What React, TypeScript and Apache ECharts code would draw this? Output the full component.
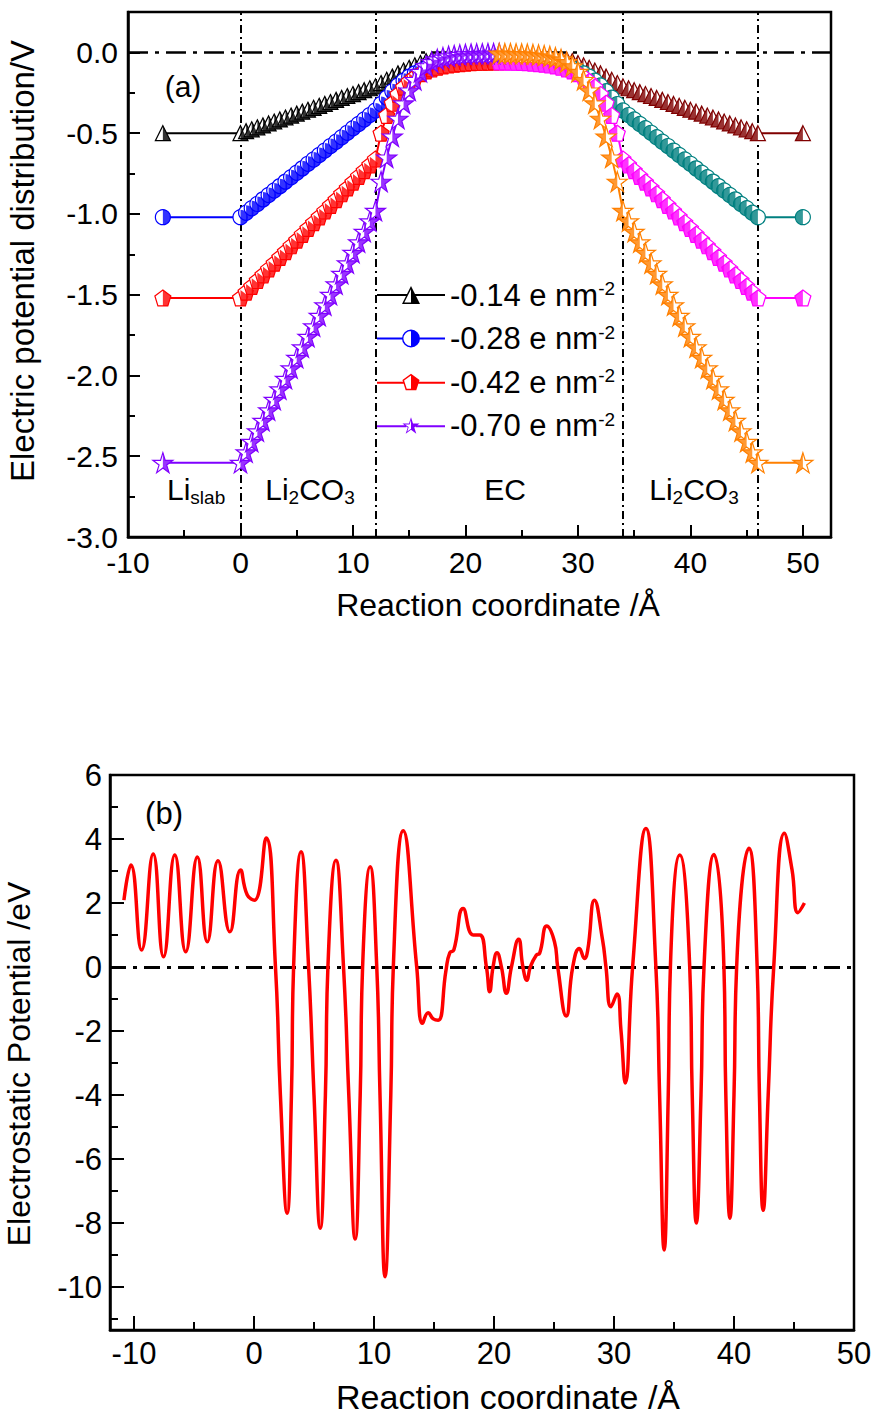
import React, { useEffect, useRef } from 'react';
import * as echarts from 'echarts';

const FONT = '"Liberation Sans", Arial, Helvetica, sans-serif';

// ---------- Panel (a) data ----------
const X_LEFT = [-6.9, 0, 0.5, 1, 1.5, 2, 2.5, 3, 3.5, 4, 4.5, 5, 5.5, 6, 6.5, 7, 7.5, 8, 8.5, 9, 9.5, 10, 10.5, 11, 11.5, 12,
  12.5, 13, 13.5, 14, 14.5, 15, 15.5, 16, 16.5, 17, 17.5, 18, 18.5, 19, 19.5, 20, 20.5, 21, 21.5, 22, 22.5, 23];
const X_RIGHT = [23, 23.5, 24, 24.5, 25, 25.5, 26, 26.5, 27, 27.5, 28, 28.5, 29, 29.5, 30, 30.5, 31, 31.5, 32, 32.5, 33, 33.5, 34,
  34.5, 35, 35.5, 36, 36.5, 37, 37.5, 38, 38.5, 39, 39.5, 40, 40.5, 41, 41.5, 42, 42.5, 43, 43.5, 44, 44.5, 45, 45.5, 46, 50];

const Q014_LEFT = [-0.50, -0.50, -0.488, -0.476, -0.464, -0.452, -0.440, -0.428, -0.415, -0.403, -0.391, -0.379, -0.367, -0.355,
  -0.343, -0.331, -0.319, -0.307, -0.294, -0.282, -0.270, -0.258, -0.246, -0.234, -0.222, -0.210,
  -0.19, -0.17, -0.15, -0.13, -0.112, -0.095, -0.08, -0.066, -0.054, -0.044, -0.036, -0.029, -0.024, -0.02, -0.017, -0.015,
  -0.013, -0.012, -0.011, -0.01, -0.01, -0.01];
const Q014_RIGHT = [-0.010, -0.010, -0.010, -0.011, -0.012, -0.013, -0.015, -0.017, -0.020, -0.024, -0.029, -0.036, -0.044,
  -0.054, -0.066, -0.080, -0.095, -0.112, -0.130, -0.150, -0.170, -0.190, -0.210, -0.222, -0.234, -0.246, -0.258, -0.270,
  -0.282, -0.294, -0.307, -0.319, -0.331, -0.343, -0.355, -0.367, -0.379, -0.391, -0.403, -0.415, -0.428, -0.440, -0.452,
  -0.464, -0.476, -0.488, -0.500, -0.500];

const Q028_LEFT = [-1.02, -1.02, -0.993, -0.965, -0.938, -0.910, -0.883, -0.855, -0.828, -0.800, -0.773, -0.745, -0.718, -0.690,
  -0.663, -0.635, -0.608, -0.580, -0.553, -0.525, -0.498, -0.470, -0.443, -0.415, -0.388, -0.360,
  -0.32, -0.28, -0.24, -0.205, -0.175, -0.15, -0.13, -0.113, -0.099, -0.088, -0.079, -0.072, -0.067, -0.063, -0.06, -0.058,
  -0.056, -0.055, -0.054, -0.053, -0.052, -0.052];
const Q028_RIGHT = [-0.052, -0.052, -0.053, -0.054, -0.055, -0.056, -0.058, -0.060, -0.063, -0.067, -0.072, -0.079, -0.088,
  -0.099, -0.113, -0.130, -0.150, -0.175, -0.205, -0.240, -0.280, -0.320, -0.360, -0.388, -0.415, -0.443, -0.470, -0.498,
  -0.525, -0.553, -0.580, -0.608, -0.635, -0.663, -0.690, -0.718, -0.745, -0.773, -0.800, -0.828, -0.855, -0.883, -0.910,
  -0.938, -0.965, -0.993, -1.020, -1.020];

const Q042_LEFT = [-1.52, -1.52, -1.484, -1.448, -1.412, -1.377, -1.341, -1.305, -1.269, -1.233, -1.197, -1.162, -1.126, -1.090,
  -1.054, -1.018, -0.982, -0.947, -0.911, -0.875, -0.839, -0.803, -0.767, -0.732, -0.696, -0.660,
  -0.50, -0.39, -0.315, -0.26, -0.215, -0.18, -0.153, -0.132, -0.115, -0.102, -0.092, -0.084, -0.078, -0.073, -0.069, -0.066,
  -0.064, -0.062, -0.061, -0.06, -0.059, -0.059];
const Q042_RIGHT = [-0.059, -0.059, -0.060, -0.061, -0.062, -0.064, -0.066, -0.069, -0.073, -0.078, -0.084, -0.092, -0.102,
  -0.115, -0.132, -0.153, -0.180, -0.215, -0.260, -0.315, -0.390, -0.500, -0.660, -0.696, -0.732, -0.767, -0.803, -0.839,
  -0.875, -0.911, -0.947, -0.982, -1.018, -1.054, -1.090, -1.126, -1.162, -1.197, -1.233, -1.269, -1.305, -1.341, -1.377,
  -1.412, -1.448, -1.484, -1.520, -1.520];

const Q070_LEFT = [-2.54, -2.54, -2.475, -2.41, -2.345, -2.28, -2.215, -2.15, -2.085, -2.02, -1.955, -1.89, -1.825, -1.76,
  -1.695, -1.63, -1.565, -1.50, -1.435, -1.37, -1.305, -1.24, -1.175, -1.11, -1.045, -0.98,
  -0.80, -0.65, -0.52, -0.41, -0.315, -0.235, -0.17, -0.12, -0.085, -0.06, -0.043, -0.032, -0.024, -0.019, -0.015, -0.012,
  -0.01, -0.009, -0.008, -0.007, -0.007, -0.007];
const Q070_RIGHT = [-0.007, -0.007, -0.007, -0.008, -0.009, -0.010, -0.012, -0.015, -0.019, -0.024, -0.032, -0.043, -0.060,
  -0.085, -0.120, -0.170, -0.235, -0.315, -0.410, -0.520, -0.650, -0.800, -0.980, -1.045, -1.110, -1.175, -1.240, -1.305,
  -1.370, -1.435, -1.500, -1.565, -1.630, -1.695, -1.760, -1.825, -1.890, -1.955, -2.020, -2.085, -2.150, -2.215, -2.280,
  -2.345, -2.410, -2.475, -2.540, -2.540];

const LEGEND_NAMES = ['-0.14 e nm-2', '-0.28 e nm-2', '-0.42 e nm-2', '-0.70 e nm-2'];
const REGION_LINES = [0, 12, 34, 46];

const TOP_X_TICKS = [-10, 0, 10, 20, 30, 40, 50];
const TOP_X_MINOR = [-5, 5, 15, 25, 35, 45];
const TOP_Y_TICKS = [-3, -2.5, -2, -1.5, -1, -0.5, 0];
const TOP_Y_MINOR = [-2.75, -2.25, -1.75, -1.25, -0.75, -0.25];

// ---------- Panel (b) data ----------
const BOTTOM_X = [-10.84, -10.26, -9.37, -8.40, -7.54, -6.60, -5.69, -4.72, -3.89, -3.00, -2.01, -1.12, -0.56, 0.04, 1.01,
  1.79, 2.20, 2.76, 3.12, 3.30, 3.92, 4.55, 5.00, 5.52, 5.95, 6.16, 6.83, 7.46, 7.90, 8.43, 8.85, 9.05, 9.68,
  10.23, 10.50, 10.92, 11.40, 11.61, 12.44, 13.56, 14.05, 14.52,
  14.94, 15.35, 16.00, 16.32, 16.65, 17.43, 18.26, 18.81, 19.37, 19.64, 19.92, 20.25, 20.62, 21.03, 21.45, 22.05, 22.41,
  22.74, 23.02, 23.52, 23.80, 24.40, 25.04, 25.31, 26.02, 26.56, 27.12, 27.54, 27.81, 28.37, 29.05, 29.33, 29.75, 30.25,
  30.58, 30.94, 31.55, 32.66, 33.49, 33.80, 34.18, 34.52, 34.70, 35.48, 36.31, 36.52, 36.86, 37.25, 37.50, 38.33,
  39.16, 39.32, 39.66, 40.00, 40.22, 41.24, 41.93, 42.12, 42.43, 42.85, 43.31, 44.20, 44.84, 45.33, 45.87];
const BOTTOM_Y = [2.09, 3.19, 0.53, 3.53, 0.32, 3.50, 0.48, 3.44, 0.79, 3.32, 1.10, 3.03, 2.25, 2.09, 4.03,
  0, -4, -7.69, -4, 0, 3.60, 0, -4, -8.16, -4, 0, 3.34, 0, -4, -8.50, -4, 0, 3.13,
  0, -4, -9.68, -4, 0, 4.26, 0, -1.76, -1.43,
  -1.62, -1.66, -0.10, 0.45, 0.53, 1.83, 1.00, 1.00, 0, -0.77, 0, 0.45, 0, -0.82, 0, 0.87, 0,
  -0.41, 0, 0.37, 0.43, 1.28, 0.79, 0, -1.53, 0, 0.58, 0.27, 0.53, 2.09, 0.84, 0, -1.24, -0.84,
  -1.97, -3.62, 0, 4.33, 0, -4, -8.84, -4, 0, 3.50, 0, -4, -8.00, -4, 0, 3.52,
  0, -4, -7.85, -4, 0, 3.71, 0, -4, -7.60, -4, 0, 4.18, 3.03, 1.70, 2.00];

const BOTTOM_X_TICKS = [-10, 0, 10, 20, 30, 40, 50];
const BOTTOM_X_MINOR = [-5, 5, 15, 25, 35, 45];
const BOTTOM_Y_TICKS = [-10, -8, -6, -4, -2, 0, 2, 4, 6];
const BOTTOM_Y_MINOR = [-11, -9, -7, -5, -3, -1, 1, 3, 5];

// ---------- Marker shapes ----------
const SHAPES: Record<string, { full: string; right: string; left: string; legend: string }> = {
  triangle: {
    full: 'path://M50 0L100 100L0 100Z',
    right: 'path://M50 0L100 100L50 100ZM0 100L0.01 100',
    left: 'path://M50 0L50 100L0 100ZM100 100L99.99 100',
    legend: 'path://M0 8L30 8L30 10L0 10ZM38 8L68 8L68 10L38 10ZM34 0L43 18L25 18ZM34 3.13L27.27 16.6L40.73 16.6ZM34 0L43 18L34 18Z',
  },
  circle: {
    full: 'circle',
    right: 'path://M50 0A50 50 0 0 1 50 100ZM0 50L0.01 50',
    left: 'path://M50 100A50 50 0 0 1 50 0ZM100 50L99.99 50',
    legend: 'path://M0 8L25.5 8L25.5 10L0 10ZM42.5 8L68 8L68 10L42.5 10ZM25 9A9 9 0 1 1 43 9A9 9 0 1 1 25 9ZM26.4 9A7.6 7.6 0 1 0 41.6 9A7.6 7.6 0 1 0 26.4 9ZM34 0A9 9 0 0 1 34 18ZM0 0L0.01 0M0 18L0.01 18',
  },
  pentagon: {
    full: 'path://M50 0L97.55 34.55L79.39 90.45L20.61 90.45L2.45 34.55Z',
    right: 'path://M50 0L97.55 34.55L79.39 90.45L50 90.45ZM2.45 34.55L2.46 34.55',
    left: 'path://M50 0L50 90.45L20.61 90.45L2.45 34.55ZM97.55 34.55L97.54 34.55',
    legend: 'path://M0 8L26.5 8L26.5 10L0 10ZM41.5 8L68 8L68 10L41.5 10ZM34 0L42.56 6.22L39.29 16.28L28.71 16.28L25.44 6.22ZM34 1.73L27.08 6.75L29.73 14.88L38.27 14.88L40.92 6.75ZM34 0L42.56 6.22L39.29 16.28L34 16.28Z',
  },
  star: {
    full: 'path://M50 0L61.23 34.55L97.55 34.55L68.16 55.9L79.39 90.45L50 69.1L20.61 90.45L31.84 55.9L2.45 34.55L38.77 34.55Z',
    right: 'path://M50 0L61.23 34.55L97.55 34.55L68.16 55.9L79.39 90.45L50 69.1ZM2.45 34.55L2.46 34.55',
    left: 'path://M50 0L50 69.1L20.61 90.45L31.84 55.9L2.45 34.55L38.77 34.55ZM97.55 34.55L97.54 34.55',
    legend: 'path://M0 8L29.3 8L29.3 10L0 10ZM38.7 8L68 8L68 10L38.7 10ZM34 0L36.02 6.22L42.56 6.22L37.27 10.06L39.29 16.28L34 12.44L28.71 16.28L30.73 10.06L25.44 6.22L31.98 6.22ZM34 2.7L32.59 7.05L28.01 7.05L31.71 9.74L30.3 14.1L34 11.41L37.7 14.1L36.29 9.74L39.99 7.05L35.41 7.05ZM34 0L36.02 6.22L42.56 6.22L37.27 10.06L39.29 16.28L34 12.44Z',
  },
};

const GROUPS = [
  { name: LEGEND_NAMES[0], left: Q014_LEFT, right: Q014_RIGHT, colorL: '#000000', colorR: '#800000', shape: 'triangle', size: 15 },
  { name: LEGEND_NAMES[1], left: Q028_LEFT, right: Q028_RIGHT, colorL: '#0000ff', colorR: '#008080', shape: 'circle', size: 15 },
  { name: LEGEND_NAMES[2], left: Q042_LEFT, right: Q042_RIGHT, colorL: '#ff0000', colorR: '#ff00ff', shape: 'pentagon', size: 16 },
  { name: LEGEND_NAMES[3], left: Q070_LEFT, right: Q070_RIGHT, colorL: '#8000ff', colorR: '#ff8000', shape: 'star', size: 20 },
];

const pairs = (xs: number[], ys: number[]) => xs.map((x, i) => [x, ys[i]]);

function mainAxis(gridIndex: number, position: string, min: number, max: number, ticks: number[], fontSize: number,
  fmt: (v: number) => string, margin: number, tickLen: number) {
  return {
    type: 'value', gridIndex, position, min, max,
    axisLine: { show: true, onZero: false, lineStyle: { color: '#000', width: 2.5 } },
    axisTick: { show: true, inside: true, length: tickLen, customValues: ticks, lineStyle: { color: '#000', width: 2 } },
    axisLabel: { show: true, customValues: ticks, formatter: fmt, color: '#000', fontSize, fontFamily: FONT, margin },
    splitLine: { show: false },
  };
}
function minorAxis(gridIndex: number, position: string, min: number, max: number, ticks: number[], tickLen: number) {
  return {
    type: 'value', gridIndex, position, min, max,
    axisLine: { show: false, onZero: false },
    axisTick: { show: true, inside: true, length: tickLen, customValues: ticks, lineStyle: { color: '#000', width: 2 } },
    axisLabel: { show: false },
    splitLine: { show: false },
  };
}

function buildOption() {
  const series: any[] = [];
  GROUPS.forEach((g, gi) => {
    const sh = SHAPES[g.shape];
    const base = 10 + gi * 4;
    const leftLine: any = {
      type: 'line', name: g.name, xAxisIndex: 0, yAxisIndex: 0, data: pairs(X_LEFT, g.left),
      symbol: sh.full, symbolSize: g.size, showSymbol: true, showAllSymbol: true,
      lineStyle: { color: g.colorL, width: 2 },
      itemStyle: { color: '#ffffff', borderColor: g.colorL, borderWidth: 1.2 },
      z: base, silent: true,
    };
    if (gi === 0) {
      leftLine.markLine = {
        silent: true, symbol: ['none', 'none'], label: { show: false },
        lineStyle: { color: '#000', type: [8, 4, 2, 4], width: 2 },
        data: [
          ...REGION_LINES.map((v) => ({ xAxis: v })),
          { yAxis: 0, lineStyle: { color: '#000', type: [20, 7, 4, 7], width: 2.5 } },
        ],
      };
    }
    series.push(leftLine);
    series.push({
      type: 'scatter', name: g.name + ' (half)', xAxisIndex: 0, yAxisIndex: 0, data: pairs(X_LEFT, g.left),
      symbol: sh.right, symbolSize: g.size, itemStyle: { color: g.colorL }, z: base + 1, silent: true,
    });
    series.push({
      type: 'line', name: g.name + ' (right)', xAxisIndex: 0, yAxisIndex: 0, data: pairs(X_RIGHT, g.right),
      symbol: sh.full, symbolSize: g.size, showSymbol: true, showAllSymbol: true,
      lineStyle: { color: g.colorR, width: 2 },
      itemStyle: { color: '#ffffff', borderColor: g.colorR, borderWidth: 1.2 },
      z: base + 2, silent: true,
    });
    series.push({
      type: 'scatter', name: g.name + ' (right half)', xAxisIndex: 0, yAxisIndex: 0, data: pairs(X_RIGHT, g.right),
      symbol: sh.left, symbolSize: g.size, itemStyle: { color: g.colorR }, z: base + 3, silent: true,
    });
  });

  series.push({
    type: 'line', name: 'Electrostatic potential', xAxisIndex: 2, yAxisIndex: 2,
    data: pairs(BOTTOM_X, BOTTOM_Y), showSymbol: false, smooth: 0.5,
    lineStyle: { color: '#ff0000', width: 3.5 }, z: 5, silent: true,
    markLine: {
      silent: true, symbol: ['none', 'none'], label: { show: false },
      lineStyle: { color: '#000', type: [16, 7, 4, 7], width: 3 },
      data: [{ yAxis: 0 }],
    },
  });

  const txt = (x: number, y: number, text: string, fontSize: number, extra: any = {}) => ({
    type: 'text', x, y, silent: true, ...extra,
    style: {
      text, fontSize, fontFamily: FONT, fill: '#000',
      align: 'center', verticalAlign: 'middle', textAlign: 'center', textVerticalAlign: 'middle',
      ...(extra.style || {}),
    },
  });
  const subRich = (main: number, sub: number) => ({
    m: { fontSize: main, lineHeight: 36, fontFamily: FONT, color: '#000', verticalAlign: 'middle' },
    s: { fontSize: sub, lineHeight: 18, fontFamily: FONT, color: '#000', verticalAlign: 'bottom' },
  });

  const graphic = [
    txt(183, 86, '(a)', 30),
    txt(164, 813, '(b)', 31),
    txt(167, 489, '{m|Li}{s|slab}', 30, { style: { rich: subRich(30, 19), align: 'left', textAlign: 'left' } }),
    txt(310, 489, '{m|Li}{s|2}{m|CO}{s|3}', 30, { style: { rich: subRich(30, 19) } }),
    txt(505, 489, 'EC', 30),
    txt(694, 489, '{m|Li}{s|2}{m|CO}{s|3}', 30, { style: { rich: subRich(30, 19) } }),
    txt(498, 605, 'Reaction coordinate /Å', 32),
    txt(508, 1397, 'Reaction coordinate /Å', 34),
    txt(22, 261, 'Electric potential distribution/V', 33, { rotation: Math.PI / 2 }),
    txt(19, 1064, 'Electrostatic Potential /eV', 32, { rotation: Math.PI / 2 }),
  ];

  return {
    animation: false,
    backgroundColor: '#ffffff',
    grid: [
      { left: 128, top: 12, width: 703, height: 525, show: true, borderColor: '#000', borderWidth: 2.5, backgroundColor: 'transparent' },
      { left: 110, top: 775, width: 744, height: 555, show: true, borderColor: '#000', borderWidth: 2.5, backgroundColor: 'transparent' },
    ],
    xAxis: [
      mainAxis(0, 'bottom', -10, 52.5, TOP_X_TICKS, 30, (v) => String(v), 10, 12),
      minorAxis(0, 'bottom', -10, 52.5, TOP_X_MINOR, 7),
      mainAxis(1, 'bottom', -12, 50, BOTTOM_X_TICKS, 31, (v) => String(v), 8, 14),
      minorAxis(1, 'bottom', -12, 50, BOTTOM_X_MINOR, 8),
    ],
    yAxis: [
      mainAxis(0, 'left', -3, 0.25, TOP_Y_TICKS, 30, (v) => v.toFixed(1), 10, 12),
      minorAxis(0, 'left', -3, 0.25, TOP_Y_MINOR, 7),
      mainAxis(1, 'left', -11.34, 6, BOTTOM_Y_TICKS, 31, (v) => String(v), 8, 14),
      minorAxis(1, 'left', -11.34, 6, BOTTOM_Y_MINOR, 8),
    ],
    legend: {
      show: true, orient: 'vertical', left: 377, top: 279, padding: 0,
      itemWidth: 68, itemHeight: 18, itemGap: 12, selectedMode: false,
      itemStyle: { borderWidth: 0 },
      data: GROUPS.map((g) => ({
        name: g.name,
        icon: SHAPES[g.shape].legend,
        itemStyle: { color: g.colorL, borderWidth: 0, borderColor: g.colorL },
      })),
      formatter: (n: string) => `{a|${n.replace(/-2$/, '')}}{s|-2}`,
      textStyle: {
        rich: {
          a: { fontSize: 31, lineHeight: 32, fontFamily: FONT, color: '#000', verticalAlign: 'middle' },
          s: { fontSize: 19, lineHeight: 18, fontFamily: FONT, color: '#000', verticalAlign: 'top' },
        },
      },
    },
    graphic,
    series,
  };
}

export default function App() {
  const ref = useRef<HTMLDivElement>(null);
  useEffect(() => {
    if (!ref.current) return;
    const chart = echarts.init(ref.current, null, { renderer: 'svg' });
    chart.setOption(buildOption() as any);
    return () => chart.dispose();
  }, []);
  return (
    <div
      ref={ref}
      style={{ position: 'absolute', left: 0, top: 0, width: 876, height: 1416, background: '#ffffff' }}
    />
  );
}
